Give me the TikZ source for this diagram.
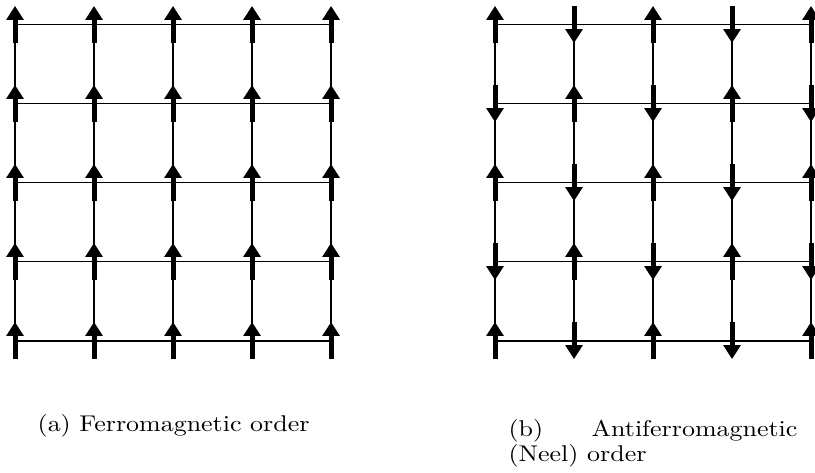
\documentclass[tikz,border=0pt]{standalone}
\usetikzlibrary{arrows.meta}
\begin{document}
\begin{tikzpicture}[
	bond/.style={line width=1.4pt},
	spin/.style={line width=3.6pt, -{Triangle[width=12pt, length=10pt]}},
	caption/.style={inner sep=0pt, font=\fontsize{10}{11}\selectfont, xscale=1.87, yscale=1.64, transform shape}
]
	\useasboundingbox (0,0) rectangle (20.63,11.95);
	% lattice sites, (a) ferromagnet on the left, (b) Neel on the right
	\foreach \c in {0,...,4}{
		\foreach \r in {0,...,4}{
			\coordinate (a\c\r) at (0.38+2*\c, 3.33+2*\r);
			\coordinate (b\c\r) at (12.53+2*\c, 3.33+2*\r);
		}
	}
	% bonds
	\foreach \i in {0,...,4}{
		\draw[bond] (a0\i) -- (a4\i);
		\draw[bond] (a\i0) -- (a\i4);
		\draw[bond] (b0\i) -- (b4\i);
		\draw[bond] (b\i0) -- (b\i4);
	}
	% spins
	\foreach \c in {0,...,4}{
		\foreach \r in {0,...,4}{
			\draw[spin] ([yshift=-0.47cm]a\c\r) -- ([yshift=0.47cm]a\c\r);
			\pgfmathsetmacro{\sgn}{ifthenelse(mod(\c+\r,2)==0,1,-1)}
			\draw[spin] ([yshift=-\sgn*0.47cm]b\c\r) -- ([yshift=\sgn*0.47cm]b\c\r);
		}
	}
	\node[caption, anchor=base west](capA) at (0.94,1.04){(a) Ferromagnetic order};
	\node[caption, anchor=base west, text width=3.91cm, align=left](capB) at (12.86,0.89){(b)\hfill Antiferromagnetic\\(Neel) order};
\end{tikzpicture}
\end{document}
